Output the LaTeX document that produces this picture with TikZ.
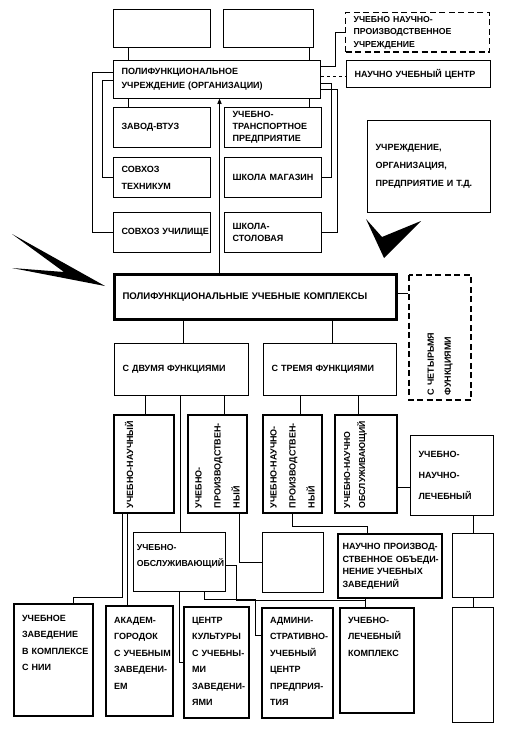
\documentclass[tikz,border=0pt]{standalone}
\usepackage{fontspec}
\setmainfont{Liberation Sans}
\usetikzlibrary{arrows, positioning}
\hyphenpenalty=10000
\exhyphenpenalty=10000
\tikzset{
-, % connectors carry no tips
>=stealth', % sharp arrow head
lead/.style={font=\fontsize{9}{#1}\selectfont\bfseries}, % text with its line spacing
small/.style={font=\fontsize{8.7}{#1}\selectfont\bfseries}, % smaller text
big/.style={font=\fontsize{9.6}{#1}\selectfont\bfseries}, % larger text
block/.style={draw=black, line width=1.2pt, rectangle, anchor=north west, align=left, lead=12}, % every box
heavy/.style={block, line width=2.2pt}, % boxes with a bold frame
dashbox/.style={block, dash pattern=on 6pt off 3.5pt}, % dashed boxes
sz/.style 2 args={minimum width=#1pt, minimum height=#2pt, text width=#1pt-16pt}, % box size
vsz/.style 2 args={rotate=90, anchor=center, minimum width=#2pt, minimum height=#1pt, text width=#2pt-10pt}, % upright box
topped/.style={text height=6pt, text depth=#1pt}, % text at the top of the box
wire/.style={line width=0.8pt}, % connector
}

\begin{document}
\begin{tikzpicture}[x=1pt, y=1pt]
  \useasboundingbox (0,0) rectangle (510,-730);
  % top row
  \node[block, sz={97}{38}] (t1) at (113,-9) {};
  \node[block, sz={90}{38}] (t2) at (223,-9) {};
  \node[dashbox, sz={144}{35}, small=12.5] (unpu) at (345,-12) {УЧЕБНО~НАУЧНО-\\ПРОИЗВОДСТВЕННОЕ\\УЧРЕЖДЕНИЕ};
  \node[block, sz={144}{27}, lead=12] (nuc) at (346,-60) {НАУЧНО~УЧЕБНЫЙ~ЦЕНТР};
  \node[block, sz={207}{38}, lead=14] (pu) at (113,-60) {ПОЛИФУНКЦИОНАЛЬНОЕ\\УЧРЕЖДЕНИЕ~(ОРГАНИЗАЦИИ)};
  % members of the institution
  \node[block, sz={97}{40}] (zv) at (113,-107) {ЗАВОД-ВТУЗ};
  \node[block, sz={97}{40}, lead=17] (st) at (113,-157) {СОВХОЗ\\ТЕХНИКУМ};
  \node[block, sz={97}{40}] (su) at (113,-212) {СОВХОЗ~УЧИЛИЩЕ};
  \node[block, sz={97}{40}] (ut) at (224,-107) {УЧЕБНО-\\ТРАНСПОРТНОЕ\\ПРЕДПРИЯТИЕ};
  \node[block, sz={97}{40}] (sm) at (224,-157) {ШКОЛА~МАГАЗИН};
  \node[block, sz={97}{40}] (ss) at (224,-212) {ШКОЛА-\\СТОЛОВАЯ};
  \node[block, sz={123}{92}, lead=18] (org) at (367,-120) {УЧРЕЖДЕНИЕ,\\ОРГАНИЗАЦИЯ,\\ПРЕДПРИЯТИЕ~И~Т.Д.};
  % the complexes
  \node[heavy, sz={282}{45}, line width=3pt, big=12] (pk) at (113,-273) {ПОЛИФУНКЦИОНАЛЬНЫЕ~УЧЕБНЫЕ~КОМПЛЕКСЫ};
  \node[dashbox, vsz={62}{125}, lead=17] (c4) at (440,-337.5) {С~ЧЕТЫРЬМЯ\\ФУНКЦИЯМИ};
  \node[block, sz={134}{52}] (f2) at (114,-343) {С~ДВУМЯ~ФУНКЦИЯМИ};
  \node[block, sz={133}{52}] (f3) at (263,-343) {С~ТРЕМЯ~ФУНКЦИЯМИ};
  % kinds of complexes
  \node[block, vsz={60}{98}, topped=28] (un) at (144,-464) {УЧЕБНО-НАУЧНЫЙ};
  \node[block, vsz={59}{98}, lead=19] (up) at (217.5,-464) {УЧЕБНО-\\ПРОИЗВОДСТВЕН-\\НЫЙ};
  \node[block, vsz={59}{98}, lead=19] (unp) at (292.5,-464) {УЧЕБНО-НАУЧНО-\\ПРОИЗВОДСТВЕН-\\НЫЙ};
  \node[block, vsz={62}{98}, small=15, topped=38] (uno) at (366,-464) {УЧЕБНО-НАУЧНО\\ОБСЛУЖИВАЮЩИЙ};
  \node[block, sz={83}{80}, lead=21] (unl) at (410,-435) {УЧЕБНО-\\НАУЧНО-\\ЛЕЧЕБНЫЙ};
  \node[block, sz={91}{59}, text width=85pt, small=16, topped=29] (uob) at (133,-532) {УЧЕБНО-\\ОБСЛУЖИВАЮЩИЙ};
  \node[block, sz={61}{60}] (bl) at (262,-532) {};
  \node[heavy, sz={104}{64}, text width=95pt, lead=12.5] (npo) at (337,-533) {НАУЧНО~ПРОИЗВОД-\\СТВЕННОЕ~ОБЪЕДИ-\\НЕНИЕ~УЧЕБНЫХ\\ЗАВЕДЕНИЙ};
  \node[block, sz={41}{64}] (r1) at (452,-533) {};
  \node[block, sz={41}{115}] (r2) at (452,-607) {};
  % examples
  \node[heavy, sz={79}{112}, lead=16.5, topped=84] (uz) at (13,-603) {УЧЕБНОЕ\\ЗАВЕДЕНИЕ\\В~КОМПЛЕКСЕ\\С~НИИ};
  \node[heavy, sz={67}{110}, lead=16.5, topped=82] (ag) at (105,-605) {АКАДЕМ-\\ГОРОДОК\\С~УЧЕБНЫМ\\ЗАВЕДЕНИ-\\ЕМ};
  \node[heavy, sz={65}{111}, lead=16.5, topped=85] (ck) at (183,-606) {ЦЕНТР\\КУЛЬТУРЫ\\С~УЧЕБНЫ-\\МИ\\ЗАВЕДЕНИ-\\ЯМИ};
  \node[heavy, sz={71}{110}, lead=16.5, topped=86] (au) at (261,-607) {АДМИНИ-\\СТРАТИВНО-\\УЧЕБНЫЙ\\ЦЕНТР\\ПРЕДПРИЯ-\\ТИЯ};
  \node[heavy, sz={74}{105}, lead=16.5, topped=81] (ul) at (339,-607) {УЧЕБНО-\\ЛЕЧЕБНЫЙ\\КОМПЛЕКС};

  % straight links
  \draw[wire] ([xshift=15]t1.south west) edge ([xshift=15]t1.south west |- pu.north)
    ([xshift=-5]t2.south east) edge ([xshift=-5]t2.south east |- pu.north)
    ([xshift=15]pu.south west) edge ([xshift=15]pu.south west |- zv.north)
    ([xshift=-12]pu.south east) edge ([xshift=-12]pu.south east |- ut.north)
    ([yshift=-16]pu.north east) edge[dashed] ([yshift=-16]pu.north east -| nuc.west)
    ([yshift=-20]pk.north east) edge ([yshift=-20]pk.north east -| c4.north)
    ([xshift=70]pk.south west) edge ([xshift=70]pk.south west |- f2.north)
    ([xshift=-66]pk.south east) edge ([xshift=-66]pk.south east |- f3.north)
    ([xshift=31]f2.south west) edge ([xshift=31]f2.south west |- un.east)
    ([xshift=66]f2.south west) edge ([xshift=66]f2.south west |- uob.north)
    ([xshift=-25]f2.south east) edge ([xshift=-25]f2.south east |- up.east)
    ([xshift=37]f3.south west) edge ([xshift=37]f3.south west |- unp.east)
    ([xshift=-39]f3.south east) edge ([xshift=-39]f3.south east |- uno.east)
    ([yshift=-23]uno.south) edge ([yshift=-23]uno.south -| unl.west)
    (r1.north |- unl.south) edge (r1.north)
    (r1.south) edge (r2.north)
    ([xshift=-17]un.west) edge ([xshift=-17]un.west |- ag.north)
    ([xshift=28]npo.south west) edge ([xshift=28]npo.south west |- ul.north);
  % links with bends
  \draw[wire] ([yshift=-6]pu.north east) -| ([xshift=-10]unpu.west) -- (unpu.west);
  \draw[wire] ([yshift=-23]pu.north east) -| ([xshift=9]sm.east) -- (sm.east);
  \draw[wire] ([yshift=-29]pu.north east) -| ([xshift=15]ss.east) -- (ss.east);
  \draw[wire] ([yshift=-12]pu.north west) -| ([xshift=-21]su.west) -- (su.west);
  \draw[wire] ([yshift=-20]pu.north west) -| ([xshift=-11]st.west) -- (st.west);
  \draw[wire, ->] ([xshift=-36]pk.north) -- ([xshift=-36]pk.north |- pu.south);
  \draw[wire] ([xshift=21.5]up.west) |- (bl.west);
  \draw[wire] (unp.west) -- ++(0,-13) -| ([xshift=30]npo.north west);
  \draw[wire] ([xshift=-22]un.west) |- ([xshift=20,yshift=6]uz.north) -- ([xshift=20]uz.north);
  \draw[wire] (uob.south) |- ([yshift=-56]ck.north west);
  \draw[wire] ([xshift=25]uob.south) -- ++(0,-7) -| ([xshift=-6,yshift=-28]au.north west) -- ([yshift=-28]au.north west);
  \draw[wire] ([yshift=-33]uob.north east) -- ++(11,0) |- ([xshift=26,yshift=7]ul.north west) -- ([xshift=26]ul.north west);
  % pointers
  \fill (12,-234) -- (105,-286) -- (12,-268) -- (64,-272) -- cycle;
  \fill (366,-219) -- (382,-237) -- (421,-221) -- (384,-258) -- cycle;
\end{tikzpicture}
\end{document}
